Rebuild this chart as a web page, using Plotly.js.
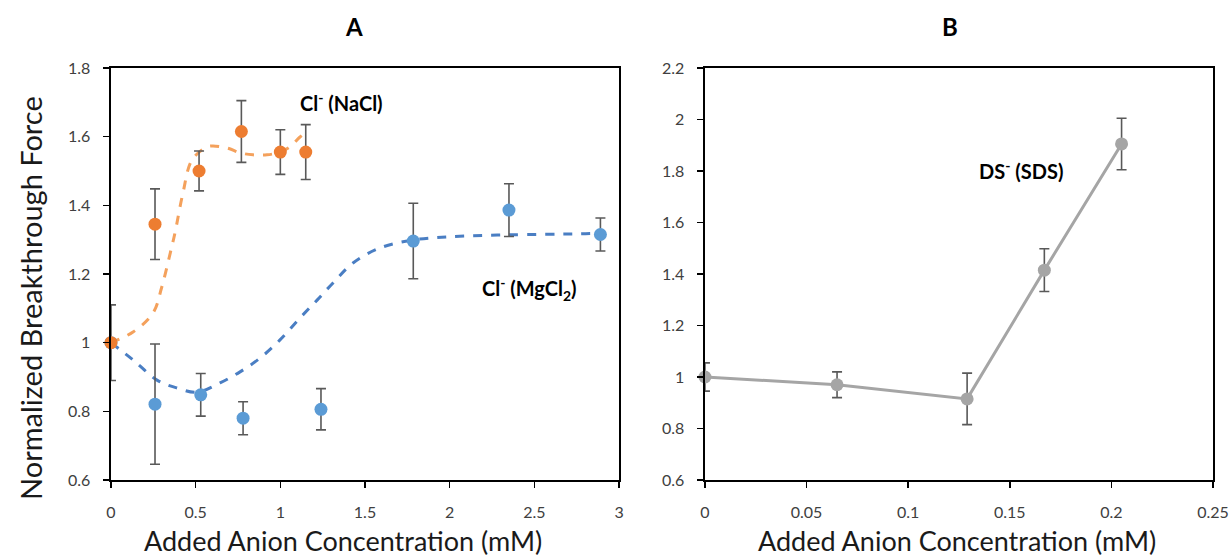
<!DOCTYPE html>
<html><head><meta charset="utf-8">
<script src="https://cdn.plot.ly/plotly-3.0.1.min.js"></script>
<style>html,body{margin:0;padding:0;background:#fff}#chart{width:1229px;height:559px}</style>
</head><body><div id="chart"></div>
<script>
// Panel A: Cl- (NaCl)
const naclX = [0, 0.26, 0.52, 0.77, 1.0, 1.15];
const naclY = [1.0, 1.345, 1.50, 1.615, 1.555, 1.555];
const naclErr = [0, 0.103, 0.058, 0.09, 0.065, 0.08];
const naclFitX = [0, 0.13, 0.248, 0.30, 0.35, 0.378, 0.425, 0.478, 0.567, 0.60, 0.685, 0.762, 0.839, 0.921, 0.998, 1.057, 1.116, 1.158];
const naclFitY = [1.0, 1.031, 1.086, 1.162, 1.261, 1.32, 1.436, 1.532, 1.570, 1.573, 1.567, 1.553, 1.547, 1.547, 1.555, 1.570, 1.599, 1.614];
// Panel A: Cl- (MgCl2)
const mgX = [0, 0.26, 0.53, 0.78, 1.24, 1.785, 2.35, 2.89];
const mgY = [1.0, 0.821, 0.848, 0.78, 0.806, 1.296, 1.386, 1.315];
const mgErr = [0.11, 0.175, 0.062, 0.048, 0.06, 0.11, 0.077, 0.048];
const mgFitX = [0, 0.13, 0.272, 0.39, 0.508, 0.644, 0.762, 0.88, 0.998, 1.116, 1.217, 1.311, 1.429, 1.589, 1.784, 1.985, 2.339, 2.77, 2.888];
const mgFitY = [1.0, 0.95, 0.891, 0.868, 0.856, 0.883, 0.915, 0.955, 1.008, 1.072, 1.124, 1.174, 1.232, 1.276, 1.299, 1.308, 1.314, 1.317, 1.319];
// Panel B: DS- (SDS)
const sdsX = [0, 0.065, 0.129, 0.167, 0.205];
const sdsY = [1.0, 0.97, 0.915, 1.415, 1.905];
const sdsErr = [0.055, 0.05, 0.1, 0.083, 0.1];

const FONT = 'Lato, "Open Sans", sans-serif';
const errStyle = {type:'data', visible:true, color:'#595959', thickness:1.6, width:5};

const traces = [
  {x:mgFitX, y:mgFitY, xaxis:'x', yaxis:'y', mode:'lines', line:{color:'#4A7EC3', width:3, dash:'dash', shape:'spline'}, hoverinfo:'skip'},
  {x:naclFitX, y:naclFitY, xaxis:'x', yaxis:'y', mode:'lines', line:{color:'#F4A15C', width:3, dash:'dash', shape:'spline'}, hoverinfo:'skip'},
  {x:mgX, y:mgY, xaxis:'x', yaxis:'y', mode:'markers', marker:{color:'#5B9BD5', size:13}, error_y:Object.assign({array:mgErr}, errStyle), cliponaxis:false},
  {x:naclX, y:naclY, xaxis:'x', yaxis:'y', mode:'markers', marker:{color:'#ED7D31', size:13}, error_y:Object.assign({array:naclErr}, errStyle), cliponaxis:false},
  {x:sdsX, y:sdsY, xaxis:'x2', yaxis:'y2', mode:'lines+markers', line:{color:'#A5A5A5', width:3}, marker:{color:'#A5A5A5', size:13}, error_y:Object.assign({array:sdsErr}, errStyle), cliponaxis:false}
];

const axisBase = {showline:true, mirror:true, linecolor:'#000', linewidth:1.5, ticks:'outside', ticklen:6, tickcolor:'#000', tickwidth:1.5, showgrid:false, zeroline:false, tickfont:{family:FONT, size:16, color:'#404040'}};
const titleFont = {family:FONT, size:27, color:'#1a1a1a'};

const layout = {
  width:1229, height:559, margin:{l:0, r:0, t:0, b:0}, showlegend:false,
  paper_bgcolor:'#fff', plot_bgcolor:'#fff',
  xaxis: Object.assign({}, axisBase, {domain:[0.0903, 0.5037], range:[0,3], dtick:0.5, tick0:0, anchor:'y', ticklabelstandoff:11}),
  yaxis: Object.assign({}, axisBase, {domain:[0.1413, 0.8784], range:[0.6,1.8], dtick:0.2, tick0:0.6, anchor:'x', ticklabelstandoff:10}),
  xaxis2: Object.assign({}, axisBase, {domain:[0.5736, 0.987], range:[0,0.25], dtick:0.05, tick0:0, anchor:'y2', ticklabelstandoff:11}),
  yaxis2: Object.assign({}, axisBase, {domain:[0.1413, 0.8784], range:[0.6,2.2], dtick:0.2, tick0:0.6, anchor:'x2', ticklabelstandoff:10}),
  annotations: [
    {text:'<b>A</b>', xref:'paper', yref:'paper', x:(354/1229), y:1-(27/559), xanchor:'center', yanchor:'middle', showarrow:false, font:{family:FONT, size:24, color:'#000'}},
    {text:'<b>B</b>', xref:'paper', yref:'paper', x:(950/1229), y:1-(27/559), xanchor:'center', yanchor:'middle', showarrow:false, font:{family:FONT, size:24, color:'#000'}},
    {text:'Added Anion Concentration (mM)', xref:'paper', yref:'paper', x:(342.5/1229), y:1-(540/559), xanchor:'center', yanchor:'middle', showarrow:false, font:titleFont},
    {text:'Added Anion Concentration (mM)', xref:'paper', yref:'paper', x:(957/1229), y:1-(540/559), xanchor:'center', yanchor:'middle', showarrow:false, font:titleFont},
    {text:'Normalized Breakthrough Force', xref:'paper', yref:'paper', x:(30/1229), y:1-(298/559), xanchor:'center', yanchor:'middle', textangle:-90, showarrow:false, font:{family:FONT, size:29, color:'#1a1a1a'}},
    {text:'<b>Cl<sup>-</sup> (NaCl)</b>', xref:'x', yref:'y', x:1.364, y:1.701, xanchor:'center', yanchor:'middle', showarrow:false, font:{family:FONT, size:20, color:'#000'}},
    {text:'<b>Cl<sup>-</sup> (MgCl<sub>2</sub>)</b>', xref:'x', yref:'y', x:2.469, y:1.156, xanchor:'center', yanchor:'middle', showarrow:false, font:{family:FONT, size:20, color:'#000'}},
    {text:'<b>DS<sup>-</sup> (SDS)</b>', xref:'x2', yref:'y2', x:0.1555, y:1.804, xanchor:'center', yanchor:'middle', showarrow:false, font:{family:FONT, size:20, color:'#000'}}
  ]
};
Plotly.newPlot('chart', traces, layout, {displayModeBar:false, staticPlot:true});
</script></body></html>
